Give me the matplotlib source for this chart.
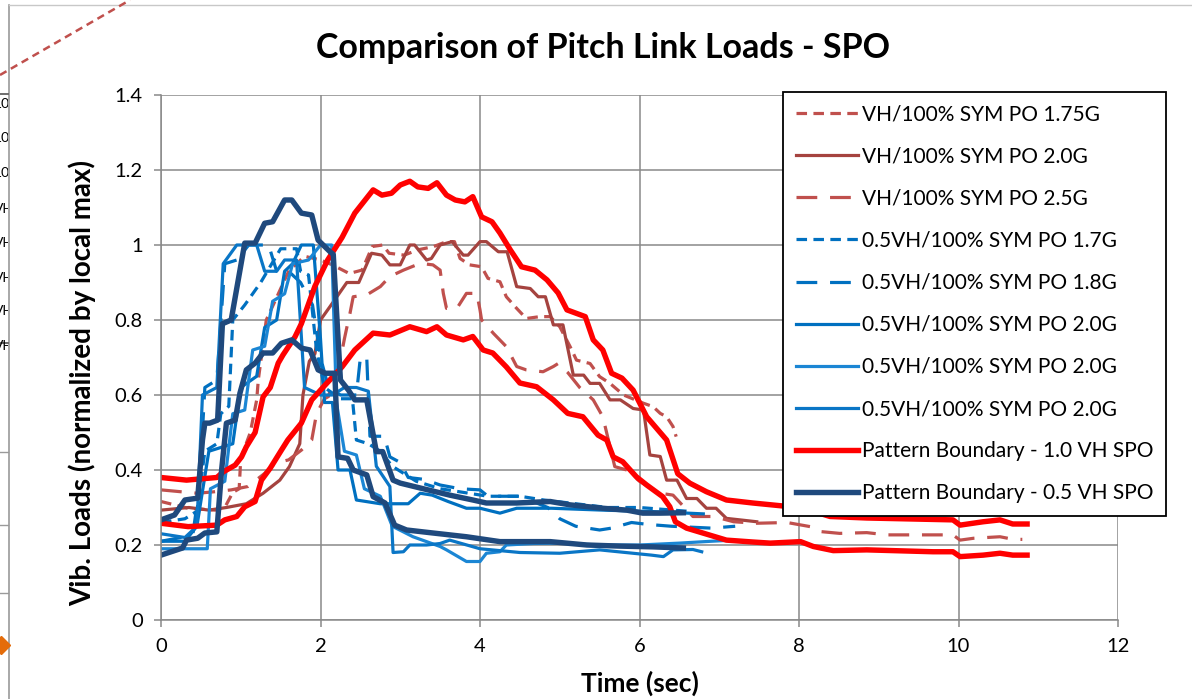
import numpy as np
import matplotlib
matplotlib.use('Agg')
import matplotlib.pyplot as plt
from matplotlib.lines import Line2D
from matplotlib.transforms import Bbox

plt.rcParams['font.family'] = ['Lato', 'DejaVu Sans']

# ---------------------------------------------------------------------------
# data: (time sec, normalized load)
# ---------------------------------------------------------------------------
vh175 = np.array([(0.0, 0.316), (0.34, 0.298), (0.68, 0.293), (0.8, 0.30), (0.9, 0.34), (0.98, 0.35),
                  (1.0, 0.43), (1.05, 0.46), (1.12, 0.50), (1.15, 0.533), (1.2, 0.587), (1.22, 0.64),
                  (1.32, 0.80), (1.45, 0.86), (1.6, 0.93), (1.8, 0.97), (2.0, 0.96), (2.15, 0.947),
                  (2.36, 0.924), (2.52, 0.933), (2.65, 0.996), (2.78, 1.0), (2.86, 0.978), (3.05, 0.973),
                  (3.22, 0.987), (3.42, 0.996), (3.58, 1.009), (3.68, 1.009), (3.75, 0.964), (3.87, 0.947),
                  (4.02, 0.942), (4.1, 0.911), (4.25, 0.902), (4.33, 0.862), (4.46, 0.831), (4.58, 0.804),
                  (4.75, 0.809), (4.88, 0.809), (5.0, 0.782), (5.13, 0.729), (5.21, 0.693), (5.38, 0.684),
                  (5.5, 0.649), (5.63, 0.631), (5.8, 0.60), (6.05, 0.578), (6.17, 0.569), (6.26, 0.551),
                  (6.34, 0.542), (6.42, 0.516), (6.46, 0.489)])

vh20 = np.array([(0.0, 0.293), (0.35, 0.30), (0.6, 0.293), (0.82, 0.30), (1.07, 0.31), (1.28, 0.338),
                 (1.49, 0.373), (1.61, 0.409), (1.74, 0.47), (1.78, 0.60), (1.86, 0.69), (1.93, 0.71),
                 (2.0, 0.80), (2.12, 0.836), (2.33, 0.90), (2.48, 0.90), (2.64, 0.978), (2.77, 0.973),
                 (2.87, 0.947), (3.0, 0.947), (3.12, 1.0), (3.18, 1.0), (3.33, 0.96), (3.39, 0.964),
                 (3.5, 1.0), (3.65, 1.009), (3.79, 0.973), (3.85, 0.973), (4.0, 1.009), (4.08, 1.009),
                 (4.23, 0.982), (4.34, 0.982), (4.46, 0.889), (4.63, 0.884), (4.73, 0.862), (4.82, 0.862),
                 (4.92, 0.787), (5.04, 0.787), (5.17, 0.653), (5.3, 0.653), (5.38, 0.631), (5.5, 0.631),
                 (5.63, 0.587), (5.76, 0.587), (5.92, 0.564), (6.05, 0.56), (6.13, 0.44), (6.26, 0.436),
                 (6.34, 0.373), (6.47, 0.373), (6.59, 0.324), (6.72, 0.324), (6.84, 0.298), (6.96, 0.298),
                 (7.09, 0.271), (7.26, 0.267), (7.47, 0.262)])

vh25 = np.array([(0.0, 0.347), (0.25, 0.342), (0.46, 0.338), (0.67, 0.342), (0.88, 0.347), (1.09, 0.356),
                 (1.3, 0.391), (1.43, 0.418), (1.6, 0.427), (1.76, 0.453), (1.89, 0.48), (1.95, 0.55),
                 (2.05, 0.59), (2.1, 0.596), (2.18, 0.658), (2.24, 0.684), (2.3, 0.75), (2.35, 0.80),
                 (2.37, 0.818), (2.41, 0.862), (2.58, 0.867), (2.75, 0.889), (2.87, 0.916), (3.04, 0.933),
                 (3.25, 0.951), (3.41, 0.947), (3.5, 0.933), (3.54, 0.871), (3.58, 0.831), (3.71, 0.831),
                 (3.83, 0.871), (3.96, 0.871), (4.0, 0.827), (4.02, 0.80), (4.17, 0.764), (4.33, 0.729),
                 (4.46, 0.676), (4.58, 0.667), (4.79, 0.662), (4.92, 0.676), (4.98, 0.684), (5.1, 0.66),
                 (5.25, 0.62), (5.42, 0.587), (5.54, 0.542), (5.69, 0.409), (5.84, 0.40), (6.0, 0.37),
                 (6.26, 0.338), (6.42, 0.333), (6.67, 0.276), (6.93, 0.276), (7.18, 0.262), (7.47, 0.258),
                 (7.85, 0.26), (8.14, 0.249), (8.26, 0.236), (8.51, 0.231), (8.85, 0.233), (9.1, 0.227),
                 (9.93, 0.227), (10.02, 0.213), (10.19, 0.218), (10.52, 0.222), (10.69, 0.215), (10.8, 0.215)])

half17 = np.array([(0.0, 0.26), (0.3, 0.27), (0.45, 0.29), (0.55, 0.45), (0.7, 0.47), (0.75, 0.55),
                   (0.85, 0.57), (0.9, 0.80), (1.05, 0.84), (1.25, 0.90), (1.5, 0.99), (1.7, 0.99),
                   (1.75, 0.93), (1.85, 0.92), (1.95, 0.72), (2.05, 0.62), (2.25, 0.59), (2.4, 0.59),
                   (2.45, 0.48), (2.6, 0.47), (2.75, 0.45), (2.9, 0.41), (3.05, 0.39), (3.2, 0.37),
                   (3.5, 0.35), (3.8, 0.34), (4.1, 0.33), (4.5, 0.33), (4.8, 0.32), (5.2, 0.31),
                   (5.6, 0.30), (6.0, 0.30), (6.3, 0.295), (6.6, 0.29)])

half18 = np.array([(0.0, 0.21), (0.25, 0.22), (0.4, 0.23), (0.48, 0.35), (0.55, 0.62), (0.7, 0.64),
                   (0.8, 0.95), (0.95, 0.96), (1.1, 1.0), (1.35, 1.0), (1.45, 0.93), (1.6, 0.93),
                   (1.75, 0.90), (1.9, 0.84), (2.0, 0.70), (2.1, 0.62), (2.25, 0.60), (2.45, 0.60),
                   (2.5, 0.70), (2.58, 0.70), (2.62, 0.49), (2.8, 0.49), (2.87, 0.435), (3.0, 0.42),
                   (3.1, 0.38), (3.3, 0.375), (3.5, 0.36), (3.75, 0.35), (4.0, 0.347), (4.1, 0.33),
                   (4.5, 0.33), (4.85, 0.30), (5.0, 0.27), (5.2, 0.25), (5.5, 0.24), (5.65, 0.245),
                   (5.9, 0.26), (6.1, 0.255), (6.4, 0.25), (6.9, 0.245), (7.2, 0.25)])

half20_a = np.array([(0.0, 0.21), (0.3, 0.21), (0.45, 0.25), (0.6, 0.45), (0.9, 0.47), (1.0, 0.62),
                     (1.2, 0.65), (1.3, 0.78), (1.45, 0.80), (1.55, 0.93), (1.65, 0.95), (1.76, 1.0),
                     (1.91, 1.0), (2.0, 0.75), (2.05, 0.58), (2.15, 0.58), (2.22, 0.40), (2.37, 0.40),
                     (2.45, 0.32), (2.75, 0.31), (3.1, 0.31), (3.25, 0.338), (3.4, 0.333), (3.6, 0.316),
                     (3.83, 0.298), (4.0, 0.298), (4.25, 0.285), (4.46, 0.298), (4.9, 0.298), (5.54, 0.293),
                     (6.17, 0.289), (6.6, 0.285), (6.8, 0.283)])

half20_b = np.array([(0.0, 0.19), (0.4, 0.19), (0.58, 0.19), (0.62, 0.35), (0.8, 0.37), (0.9, 0.55),
                     (1.05, 0.56), (1.15, 0.72), (1.3, 0.73), (1.4, 0.85), (1.55, 0.87), (1.65, 0.95),
                     (1.85, 0.96), (2.0, 1.0), (2.14, 1.0), (2.2, 0.58), (2.3, 0.45), (2.45, 0.44),
                     (2.55, 0.35), (2.75, 0.33), (2.9, 0.25), (3.16, 0.222), (3.5, 0.196), (3.58, 0.187),
                     (3.83, 0.156), (4.0, 0.156), (4.08, 0.178), (4.25, 0.182), (4.33, 0.2), (4.67, 0.204),
                     (5.0, 0.205), (5.5, 0.2), (6.0, 0.2), (6.5, 0.205), (6.9, 0.21), (7.17, 0.213)])

half20_c = np.array([(0.0, 0.23), (0.3, 0.22), (0.45, 0.25), (0.52, 0.60), (0.7, 0.62), (0.78, 0.95),
                     (0.95, 1.0), (1.2, 1.0), (1.3, 0.93), (1.45, 0.93), (1.55, 0.96), (1.7, 0.96),
                     (1.8, 0.62), (2.0, 0.60), (2.15, 0.60), (2.3, 0.62), (2.45, 0.62), (2.6, 0.61),
                     (2.7, 0.41), (2.87, 0.356), (2.91, 0.18), (3.04, 0.182), (3.12, 0.2), (3.33, 0.2),
                     (3.5, 0.204), (3.62, 0.213), (4.0, 0.19), (4.5, 0.18), (5.0, 0.178), (5.5, 0.187),
                     (6.15, 0.173), (6.3, 0.169), (6.42, 0.187), (6.67, 0.188), (6.78, 0.182)])

bound10_hi = np.array([(0.0, 0.38), (0.32, 0.373), (0.70, 0.38), (0.78, 0.395), (0.93, 0.413), (1.01, 0.435),
                       (1.07, 0.462), (1.18, 0.50), (1.28, 0.595), (1.37, 0.62), (1.47, 0.685), (1.53, 0.707),
                       (1.68, 0.755), (1.76, 0.79), (1.93, 0.89), (2.09, 0.96), (2.27, 1.02), (2.43, 1.085),
                       (2.66, 1.147), (2.77, 1.133), (2.89, 1.138), (3.0, 1.16), (3.12, 1.17), (3.22, 1.155),
                       (3.35, 1.151), (3.46, 1.166), (3.58, 1.133), (3.69, 1.12), (3.81, 1.115), (3.91, 1.129),
                       (4.02, 1.075), (4.15, 1.062), (4.25, 1.032), (4.38, 0.987), (4.52, 0.942), (4.69, 0.933),
                       (4.84, 0.907), (4.98, 0.872), (5.09, 0.827), (5.32, 0.809), (5.42, 0.747), (5.54, 0.72),
                       (5.65, 0.658), (5.78, 0.645), (5.92, 0.613), (6.09, 0.542), (6.34, 0.48), (6.48, 0.39),
                       (6.63, 0.365), (6.84, 0.342), (7.09, 0.32), (7.42, 0.312), (7.8, 0.304), (8.02, 0.30),
                       (8.39, 0.276), (8.85, 0.272), (9.93, 0.267), (10.02, 0.253), (10.31, 0.262),
                       (10.52, 0.267), (10.68, 0.256), (10.86, 0.256)])

bound10_lo = np.array([(0.0, 0.258), (0.34, 0.249), (0.70, 0.253), (0.80, 0.267), (0.95, 0.276), (1.05, 0.302),
                       (1.18, 0.316), (1.26, 0.373), (1.37, 0.405), (1.51, 0.453), (1.59, 0.48), (1.76, 0.525),
                       (1.89, 0.587), (2.06, 0.627), (2.27, 0.675), (2.43, 0.72), (2.66, 0.765), (2.87, 0.76),
                       (3.12, 0.782), (3.33, 0.769), (3.46, 0.782), (3.58, 0.76), (3.79, 0.747), (3.91, 0.756),
                       (4.04, 0.72), (4.16, 0.712), (4.33, 0.675), (4.5, 0.632), (4.71, 0.622), (4.92, 0.587),
                       (5.1, 0.551), (5.29, 0.542), (5.48, 0.493), (5.59, 0.48), (5.67, 0.435), (5.79, 0.422),
                       (5.96, 0.382), (6.09, 0.36), (6.29, 0.329), (6.38, 0.302), (6.45, 0.262), (6.59, 0.245),
                       (6.84, 0.229), (7.09, 0.213), (7.42, 0.208), (7.64, 0.205), (8.02, 0.209), (8.18, 0.196),
                       (8.43, 0.185), (8.85, 0.187), (9.68, 0.182), (9.93, 0.182), (10.02, 0.169), (10.31, 0.173),
                       (10.52, 0.178), (10.68, 0.173), (10.86, 0.173)])

bound05_hi = np.array([(0.0, 0.267), (0.17, 0.28), (0.30, 0.32), (0.46, 0.325), (0.52, 0.48), (0.55, 0.525),
                       (0.61, 0.525), (0.71, 0.533), (0.77, 0.79), (0.88, 0.80), (1.05, 1.005), (1.18, 1.005),
                       (1.30, 1.058), (1.40, 1.062), (1.55, 1.12), (1.64, 1.12), (1.76, 1.085), (1.89, 1.08),
                       (1.97, 1.013), (2.12, 0.982), (2.16, 0.975), (2.25, 0.64), (2.35, 0.613), (2.43, 0.587),
                       (2.58, 0.587), (2.70, 0.449), (2.78, 0.449), (2.91, 0.373), (3.0, 0.365), (3.25, 0.352),
                       (3.62, 0.333), (3.91, 0.32), (4.08, 0.312), (4.46, 0.312), (4.88, 0.316), (5.13, 0.307),
                       (5.54, 0.298), (5.84, 0.293), (6.04, 0.285), (6.26, 0.285), (6.55, 0.286)])

bound05_lo = np.array([(0.0, 0.173), (0.27, 0.192), (0.32, 0.213), (0.46, 0.218), (0.55, 0.232), (0.70, 0.235),
                       (0.76, 0.40), (0.82, 0.525), (0.93, 0.533), (0.99, 0.605), (1.07, 0.667), (1.18, 0.685),
                       (1.28, 0.712), (1.40, 0.712), (1.51, 0.738), (1.64, 0.747), (1.76, 0.725), (1.87, 0.72),
                       (1.97, 0.667), (2.06, 0.658), (2.18, 0.658), (2.22, 0.435), (2.34, 0.431), (2.41, 0.40),
                       (2.58, 0.387), (2.66, 0.329), (2.81, 0.312), (2.93, 0.253), (3.08, 0.24), (3.41, 0.232),
                       (3.83, 0.222), (4.25, 0.209), (4.88, 0.209), (5.34, 0.20), (5.76, 0.197), (6.17, 0.195),
                       (6.55, 0.192)])

labels = ['VH/100% SYM PO 1.75G', 'VH/100% SYM PO 2.0G', 'VH/100% SYM PO 2.5G',
          '0.5VH/100% SYM PO 1.7G', '0.5VH/100% SYM PO 1.8G', '0.5VH/100% SYM PO 2.0G',
          '0.5VH/100% SYM PO 2.0G', '0.5VH/100% SYM PO 2.0G',
          'Pattern Boundary - 1.0 VH SPO', 'Pattern Boundary - 0.5 VH SPO']

x_ticks = [0, 2, 4, 6, 8, 10, 12]
y_ticks = [0, 0.2, 0.4, 0.6, 0.8, 1.0, 1.2, 1.4]
y_tick_labels = ['0', '0.2', '0.4', '0.6', '0.8', '1', '1.2', '1.4']

# ---------------------------------------------------------------------------
# figure
# ---------------------------------------------------------------------------
W, H = 1192, 699
fig = plt.figure(figsize=(W / 100, H / 100), dpi=100)
ax = fig.add_axes([161 / W, 1 - 620 / H, (1118 - 161) / W, (620 - 95) / H])

short_dash = (0, (3.3, 2.0))
long_dash = (0, (6.5, 4.0))
brown = '#C0504D'
brown_dark = '#A5433F'
blue = '#0070C0'
blue_light = '#1B86D4'
red = '#FF0000'
navy = '#1F497D'

thin = 2.3
thick = 3.9

handles = []
handles += ax.plot(vh175[:, 0], vh175[:, 1], color=brown, lw=thin, ls=short_dash)
handles += ax.plot(vh20[:, 0], vh20[:, 1], color=brown_dark, lw=thin)
handles += ax.plot(vh25[:, 0], vh25[:, 1], color=brown, lw=thin, ls=long_dash)
handles += ax.plot(half17[:, 0], half17[:, 1], color=blue, lw=thin, ls=short_dash)
handles += ax.plot(half18[:, 0], half18[:, 1], color=blue, lw=thin, ls=long_dash)
handles += ax.plot(half20_a[:, 0], half20_a[:, 1], color=blue, lw=thin)
handles += ax.plot(half20_b[:, 0], half20_b[:, 1], color=blue_light, lw=thin)
handles += ax.plot(half20_c[:, 0], half20_c[:, 1], color='#0A76C6', lw=thin)
handles += ax.plot(bound10_hi[:, 0], bound10_hi[:, 1], color=red, lw=thick, solid_joinstyle='round')
ax.plot(bound10_lo[:, 0], bound10_lo[:, 1], color=red, lw=thick, solid_joinstyle='round')
handles += ax.plot(bound05_hi[:, 0], bound05_hi[:, 1], color=navy, lw=thick, solid_joinstyle='round')
ax.plot(bound05_lo[:, 0], bound05_lo[:, 1], color=navy, lw=thick, solid_joinstyle='round')

ax.set_xlim(0, 12)
ax.set_ylim(0, 1.4)
ax.set_xticks(x_ticks)
ax.set_yticks(y_ticks)
ax.set_yticklabels(y_tick_labels)
ax.grid(True, color='#898989', lw=1.1)
ax.set_axisbelow(True)
for side in ['top', 'right']:
    ax.spines[side].set_visible(False)
for side in ['left', 'bottom']:
    ax.spines[side].set_color('#898989')
    ax.spines[side].set_linewidth(1.1)
ax.tick_params(colors='#898989', labelcolor='black', labelsize=14.5, length=5, width=1.1, pad=8)

# axis titles and chart title placed where the reference has them
fig.text(640 / W, 1 - 683 / H, 'Time (sec)', fontsize=19, fontweight='bold', ha='center', va='center')
fig.text(82 / W, 1 - 383 / H, 'Vib. Loads (normalized by local max)', fontsize=20,
         fontweight='bold', ha='center', va='center', rotation=90)
fig.text(603 / W, 1 - 48 / H, 'Comparison of Pitch Link Loads - SPO', fontsize=24.5,
         fontweight='bold', ha='center', va='center')

leg = fig.legend(handles, labels, loc='upper left', bbox_to_anchor=(783 / W, 1 - 92 / H),
                 fontsize=15, frameon=True, fancybox=False, framealpha=1, edgecolor='black',
                 handlelength=3.0, handletextpad=0.2, labelspacing=1.06, borderpad=0.6,
                 borderaxespad=0)
leg.get_frame().set_linewidth(1.3)

# bits of the neighbouring sheet objects at the left edge of the screenshot
fig.add_artist(Line2D([8.5 / W, 8.5 / W], [0, 1 - 5 / H], color='#9a9a9a', lw=1.2))
fig.add_artist(Line2D([8.5 / W, 1], [1 - 5 / H, 1 - 5 / H], color='#c8c8c8', lw=1.0))
fig.add_artist(Line2D([0, 130 / W], [1 - 75 / H, 1], color=brown, lw=1.8, ls=(0, (3, 2))))
fig.add_artist(Line2D([0, 8 / W], [1 - 94 / H, 1 - 94 / H], color='#555555', lw=1.2))
fig.add_artist(Line2D([0, 8 / W], [1 - 343 / H, 1 - 343 / H], color='#555555', lw=1.2))
for yy in [452, 525, 593]:
    fig.add_artist(Line2D([0, 8 / W], [1 - yy / H, 1 - yy / H], color='#9a9a9a', lw=1.0))
fig.add_artist(Line2D([1 / W], [1 - 645 / H], marker='D', color='#E46C0A', markersize=9, ls='none'))
clip = Bbox.from_extents(0, 0, 8, H)
for txt, yy in [('10', 104), ('10', 138), ('10', 173), ('VH', 209), ('VH', 243),
                ('VH', 278), ('VH', 311), ('VH', 346)]:
    t = fig.text(-6 / W, 1 - yy / H, txt, fontsize=10, va='center', ha='left')
    t.set_clip_box(clip)

fig.savefig('out.png', dpi=100)
